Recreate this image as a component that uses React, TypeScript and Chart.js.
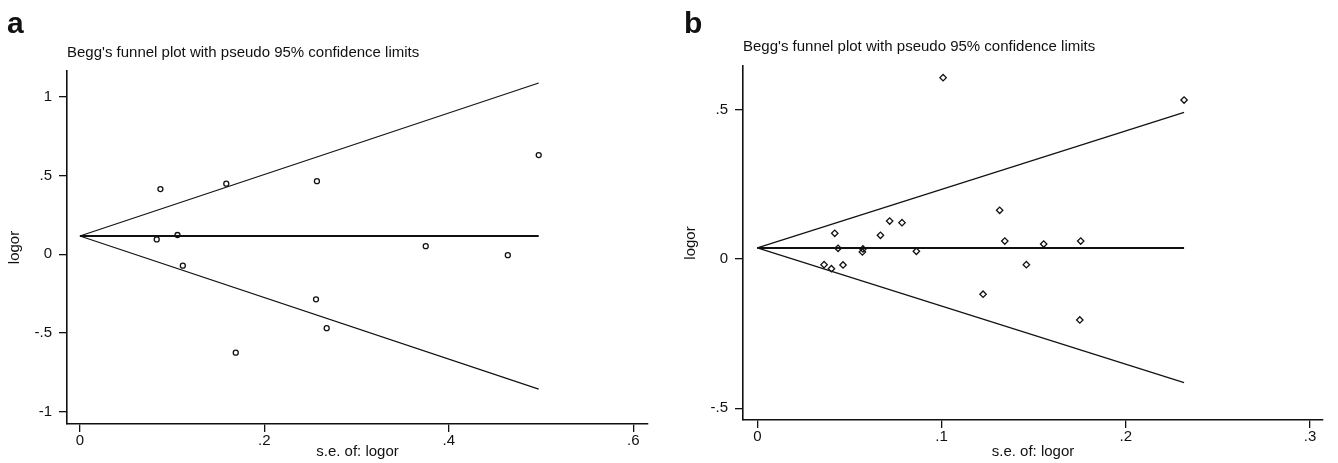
import React, { useEffect, useRef } from "react";
import { Chart, registerables } from "chart.js";

Chart.register(...registerables);

// ---------- Panel a data ----------
const seA = [0.0873, 0.1587, 0.257, 0.0833, 0.1058, 0.1116, 0.375, 0.464, 0.4975, 0.169, 0.256, 0.2676];
const logorA = [0.415, 0.449, 0.465, 0.095, 0.123, -0.072, 0.052, -0.005, 0.631, -0.625, -0.286, -0.469];
const funnelSeA = [0, 0.4975];
const pooledA = [0.1165, 0.1165];
const upperA = [0.1165, 1.089];
const lowerA = [0.1165, -0.856];
const xTicksA = [0, 0.2, 0.4, 0.6];
const xTickLabelsA = ["0", ".2", ".4", ".6"];
const yTicksA = [-1, -0.5, 0, 0.5, 1];
const yTickLabelsA = ["-1", "-.5", "0", ".5", "1"];

// ---------- Panel b data ----------
const seB = [0.042, 0.0438, 0.0362, 0.0402, 0.0465, 0.0573, 0.057, 0.0668, 0.0718, 0.0785, 0.0863, 0.1315, 0.1343, 0.146, 0.1225, 0.1554, 0.1755, 0.1008, 0.2316, 0.175];
const logorB = [0.086, 0.0358, -0.019, -0.0325, -0.02, 0.0335, 0.0234, 0.0794, 0.127, 0.1216, 0.0258, 0.163, 0.06, -0.019, -0.118, 0.05, 0.06, 0.607, 0.532, -0.204];
const funnelSeB = [0, 0.2316];
const pooledB = [0.037, 0.037];
const upperB = [0.037, 0.491];
const lowerB = [0.037, -0.414];
const xTicksB = [0, 0.1, 0.2, 0.3];
const xTickLabelsB = ["0", ".1", ".2", ".3"];
const yTicksB = [-0.5, 0, 0.5];
const yTickLabelsB = ["-.5", "0", ".5"];

const titleText = "Begg's funnel plot with pseudo 95% confidence limits";
const xTitleText = "s.e. of: logor";
const yTitleText = "logor";

const FONT = "'Liberation Sans', Arial, Helvetica, sans-serif";
const INK = "#111";

type Spec = {
  left: number;
  width: number;
  se: number[];
  logor: number[];
  funnelSe: number[];
  pooled: number[];
  upper: number[];
  lower: number[];
  xTicks: number[];
  xLabels: string[];
  yTicks: number[];
  yLabels: string[];
  xMin: number;
  xMax: number;
  yMin: number;
  yMax: number;
  padRight: number;
  xAxisH: number;
  titleTop: number;
  titleBottom: number;
  pointStyle: string;
  pointRadius: number;
};

const pairs = (xs: number[], ys: number[]) => xs.map((x, i) => ({ x, y: ys[i] }));

function makeConfig(s: Spec): any {
  const lineDs = (ys: number[], w: number) => ({
    data: pairs(s.funnelSe, ys),
    showLine: true,
    pointRadius: 0,
    borderColor: INK,
    borderWidth: w,
    fill: false,
  });
  return {
    type: "scatter",
    data: {
      datasets: [
        {
          data: pairs(s.se, s.logor),
          pointStyle: s.pointStyle,
          pointRadius: s.pointRadius,
          pointBorderWidth: 1.3,
          pointBorderColor: INK,
          pointBackgroundColor: "rgba(0,0,0,0)",
          showLine: false,
        },
        lineDs(s.upper, 1.2),
        lineDs(s.lower, 1.2),
        lineDs(s.pooled, 2),
      ],
    },
    options: {
      animation: false,
      responsive: false,
      devicePixelRatio: 1,
      layout: { padding: { left: 0, right: s.padRight, top: 0, bottom: 0 } },
      plugins: {
        legend: { display: false },
        tooltip: { enabled: false },
        title: {
          display: true,
          text: titleText,
          align: "start",
          fullSize: false,
          color: INK,
          font: { family: FONT, size: 15, weight: "normal", lineHeight: 1.2 },
          padding: { top: s.titleTop, bottom: s.titleBottom },
        },
      },
      scales: {
        x: {
          type: "linear",
          min: s.xMin,
          max: s.xMax,
          afterBuildTicks: (sc: any) => {
            sc.ticks = s.xTicks.map((v) => ({ value: v }));
          },
          afterFit: (sc: any) => {
            sc.height = s.xAxisH;
          },
          ticks: {
            autoSkip: false,
            maxRotation: 0,
            padding: 0,
            color: INK,
            font: { family: FONT, size: 15 },
            callback: (_v: any, i: number) => s.xLabels[i],
          },
          grid: {
            drawOnChartArea: false,
            drawTicks: true,
            tickLength: 8,
            color: INK,
            lineWidth: 1.3,
          },
          border: { display: true, color: INK, width: 1.6 },
          title: {
            display: true,
            text: xTitleText,
            color: INK,
            font: { family: FONT, size: 15, lineHeight: 1.2 },
            padding: { top: 0, bottom: 2 },
          },
        },
        y: {
          type: "linear",
          min: s.yMin,
          max: s.yMax,
          afterBuildTicks: (sc: any) => {
            sc.ticks = s.yTicks.map((v) => ({ value: v }));
          },
          afterFit: (sc: any) => {
            sc.width = 67;
          },
          ticks: {
            autoSkip: false,
            padding: 7,
            color: INK,
            font: { family: FONT, size: 15 },
            callback: (_v: any, i: number) => s.yLabels[i],
          },
          grid: {
            drawOnChartArea: false,
            drawTicks: true,
            tickLength: 8,
            color: INK,
            lineWidth: 1.3,
          },
          border: { display: true, color: INK, width: 1.6 },
          title: {
            display: true,
            text: yTitleText,
            color: INK,
            font: { family: FONT, size: 15, lineHeight: 1.2 },
            padding: { top: 6, bottom: 0 },
          },
        },
      },
    },
  };
}

const specA: Spec = {
  left: 0,
  width: 669,
  se: seA,
  logor: logorA,
  funnelSe: funnelSeA,
  pooled: pooledA,
  upper: upperA,
  lower: lowerA,
  xTicks: xTicksA,
  xLabels: xTickLabelsA,
  yTicks: yTicksA,
  yLabels: yTickLabelsA,
  xMin: -0.014,
  xMax: 0.616,
  yMin: -1.078,
  yMax: 1.165,
  padRight: 21,
  xAxisH: 39,
  titleTop: 44,
  titleBottom: 9,
  pointStyle: "circle",
  pointRadius: 2.5,
};

const specB: Spec = {
  left: 676,
  width: 662,
  se: seB,
  logor: logorB,
  funnelSe: funnelSeB,
  pooled: pooledB,
  upper: upperB,
  lower: lowerB,
  xTicks: xTicksB,
  xLabels: xTickLabelsB,
  yTicks: yTicksB,
  yLabels: yTickLabelsB,
  xMin: -0.0078,
  xMax: 0.307,
  yMin: -0.539,
  yMax: 0.646,
  padRight: 15,
  xAxisH: 43,
  titleTop: 38,
  titleBottom: 10,
  pointStyle: "rectRot",
  pointRadius: 3.2,
};

function Panel({ spec }: { spec: Spec }) {
  const ref = useRef<HTMLCanvasElement>(null);
  useEffect(() => {
    if (!ref.current) return;
    const chart = new Chart(ref.current, makeConfig(spec));
    return () => chart.destroy();
  }, [spec]);
  return (
    <canvas
      ref={ref}
      width={spec.width}
      height={463}
      style={{ position: "absolute", left: spec.left, top: 0, width: spec.width, height: 463 }}
    />
  );
}

const letterStyle = (left: number): React.CSSProperties => ({
  position: "absolute",
  left,
  top: 7.6,
  fontFamily: FONT,
  fontWeight: "bold",
  fontSize: 30,
  lineHeight: "30px",
  color: INK,
});

export default function App() {
  return (
    <div
      style={{
        position: "absolute",
        left: 0,
        top: 0,
        width: 1338,
        height: 463,
        background: "#fff",
        overflow: "hidden",
      }}
    >
      <Panel spec={specA} />
      <Panel spec={specB} />
      <div style={letterStyle(7)}>a</div>
      <div style={letterStyle(684)}>b</div>
    </div>
  );
}
